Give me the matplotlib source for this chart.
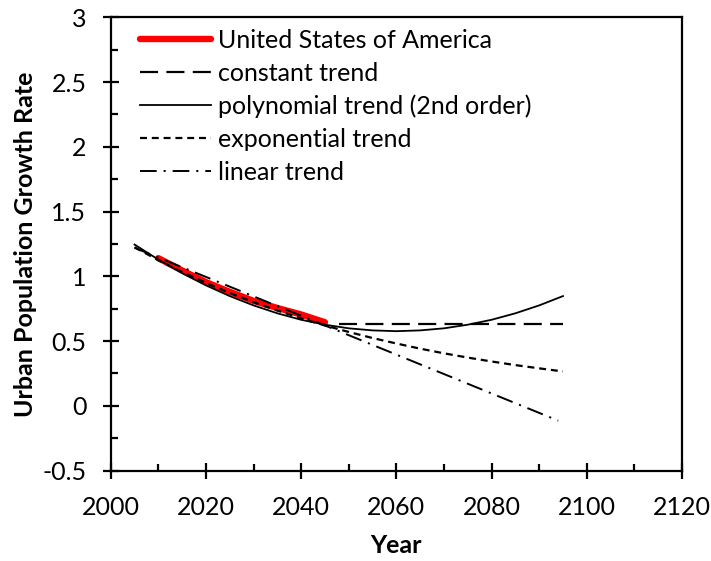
import matplotlib
matplotlib.use("Agg")
import matplotlib.pyplot as plt
from matplotlib.ticker import MultipleLocator, FuncFormatter

plt.rcParams['font.family'] = ['Lato', 'DejaVu Sans']
plt.rcParams['lines.scale_dashes'] = False

# Data
us_years = [2010, 2015, 2020, 2025, 2030, 2035, 2040, 2045]
us_rate = [1.14, 1.045, 0.955, 0.88, 0.81, 0.755, 0.705, 0.645]

trend_years = [2005, 2010, 2015, 2020, 2025, 2030, 2035, 2040, 2045, 2050,
               2055, 2060, 2065, 2070, 2075, 2080, 2085, 2090, 2095]
poly_trend = [1.245, 1.129, 1.024, 0.930, 0.847, 0.775, 0.714, 0.664, 0.626, 0.598,
              0.582, 0.576, 0.582, 0.598, 0.626, 0.664, 0.714, 0.775, 0.847]
exp_trend = [1.224, 1.124, 1.033, 0.949, 0.871, 0.800, 0.735, 0.675, 0.620, 0.570,
             0.523, 0.481, 0.441, 0.405, 0.372, 0.342, 0.314, 0.289, 0.265]
const_years = [2048, 2095]
const_trend = [0.633, 0.633]
lin_years = [2005, 2094]
lin_trend = [1.22, -0.115]

labels = ['United States of America', 'constant trend',
          'polynomial trend (2nd order)', 'exponential trend', 'linear trend']

FS = 18

fig = plt.figure(figsize=(7.11, 5.61), dpi=100)
ax = fig.add_axes([0.1557, 0.1613, 0.8035, 0.8079])

h_us, = ax.plot(us_years, us_rate, color='#ff0000', lw=4.6, solid_capstyle='round', zorder=2)
h_c, = ax.plot(const_years, const_trend, color='black', lw=1.6, linestyle=(0, (13, 6)), zorder=3)
h_p, = ax.plot(trend_years, poly_trend, color='black', lw=1.3, zorder=3)
h_e, = ax.plot(trend_years, exp_trend, color='black', lw=1.6, linestyle=(0, (5, 3.5)), zorder=3)
h_l, = ax.plot(lin_years, lin_trend, color='black', lw=1.4, linestyle=(0, (12, 5, 1.5, 5)), zorder=3)

ax.set_xlim(2000, 2120)
ax.set_ylim(-0.5, 3)
ax.xaxis.set_major_locator(MultipleLocator(20))
ax.xaxis.set_minor_locator(MultipleLocator(10))
ax.yaxis.set_major_locator(MultipleLocator(0.5))
ax.yaxis.set_minor_locator(MultipleLocator(0.25))
ax.yaxis.set_major_formatter(FuncFormatter(lambda v, p: ('%g' % v)))

for s in ax.spines.values():
    s.set_linewidth(1.6)
ax.tick_params(which='major', direction='inout', length=11, width=1.6, labelsize=FS)
ax.tick_params(axis='x', which='major', pad=13)
ax.tick_params(axis='y', which='major', pad=12)
ax.tick_params(which='minor', direction='in', length=5, width=1.6)
ax.tick_params(top=False, right=False, which='both')

ax.set_xlabel('Year', fontsize=FS, fontweight='bold', labelpad=11)
ax.set_ylabel('Urban Population Growth Rate', fontsize=FS, fontweight='bold', labelpad=4)

leg = ax.legend([h_us, h_c, h_p, h_e, h_l], labels, loc='upper left',
                bbox_to_anchor=(0.0517, 0.975), frameon=False, fontsize=FS,
                handlelength=2.85, handletextpad=0.28, labelspacing=0.4, borderpad=0,
                borderaxespad=0)

fig.savefig('out.png', dpi=100)
